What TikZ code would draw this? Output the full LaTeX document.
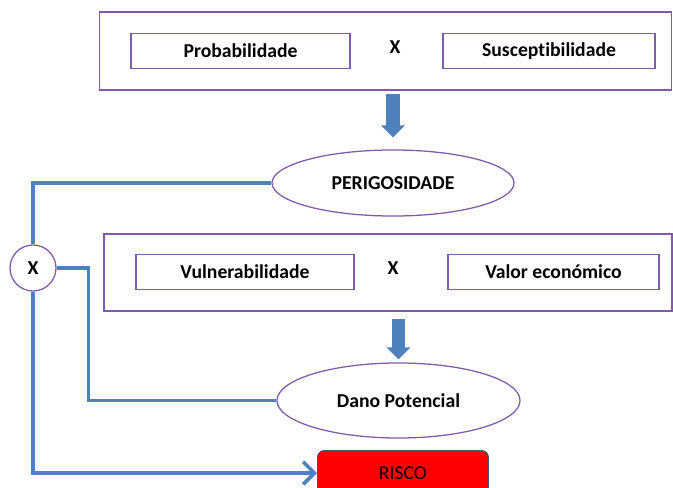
\documentclass[tikz,border=0pt]{standalone}
\usepackage{fontspec}
\setmainfont{Carlito}[Ligatures={NoCommon}]
\usetikzlibrary{arrows.meta,shapes.geometric,calc}
\definecolor{linkblue}{RGB}{79,129,189}
\definecolor{boxpurple}{RGB}{128,90,170}
\newcommand{\labelfont}{\fontsize{14}{16}\selectfont}
\begin{document}
\begin{tikzpicture}[x=0.025cm, y=-0.025cm, semithick,
        font=\labelfont,
        frame/.style={rectangle,draw=boxpurple,line width=0.9pt,inner sep=0pt},
        factor/.style={rectangle,draw=boxpurple,line width=0.9pt,minimum height=0.88cm,font=\labelfont\bfseries},
        result/.style={ellipse,draw=boxpurple,line width=0.9pt,inner sep=0pt,font=\labelfont\bfseries},
        times/.style={font=\labelfont\bfseries},
        link/.style={draw=linkblue,line width=2.6pt},
        bigarrow/.style={draw=linkblue,line width=0.33cm,-{Triangle[width=0.58cm,length=0.3cm]}}]
        \useasboundingbox (0,0) rectangle (673,488);
        \clip (0,0) rectangle (673,488);
        % first product
        \node[frame,minimum width=14.3cm,minimum height=1.95cm] at (385.5,51) (top) {};
        \node[factor,minimum width=5.475cm] at (240.5,51) (prob) {Probabilidade};
        \node[times] at (395,47) (x1) {X};
        \node[factor,minimum width=5.3cm] at (549,51) (susc) {Susceptibilidade};
        \node[result,minimum width=6.05cm,minimum height=1.65cm] at (393,183) (peri) {PERIGOSIDADE};
        % second product
        \node[frame,minimum width=14.2cm,minimum height=1.925cm] at (388,272.5) (mid) {};
        \node[factor,minimum width=5.45cm] at (245,272) (vuln) {Vulnerabilidade};
        \node[times] at (393,268) (x2) {X};
        \node[factor,minimum width=5.275cm] at (553.5,272) (valor) {Valor económico};
        \node[result,minimum width=6.075cm,minimum height=1.875cm] at (398.5,400.5) (dano) {Dano Potencial};
        \node[circle,draw=boxpurple,line width=0.9pt,minimum size=1.15cm,inner sep=0pt,font=\labelfont\bfseries,fill=white] at (33,268) (cx) {X};
        \node[rectangle,rounded corners=5pt,draw=linkblue!70!black,fill=red,minimum width=4.275cm,minimum height=1.2cm,
              anchor=north west] at (317,450) (risco) {};
        \path (risco.north) ++(0,23) node (riscotext) {RISCO};
        \draw[bigarrow,shorten <=0.075cm,shorten >=0.3cm] (peri.north |- top.south) -- (peri.north);
        \draw[bigarrow,shorten <=0.175cm,shorten >=0.075cm] (dano.north |- mid.south) -- (dano.north);
        \draw[link] (cx.north) |- (peri.west);
        \draw[link] (cx.east) -- ++(32,0) |- (dano.west);
        \draw[link,-{Straight Barb[length=8pt,width=16pt]}] (cx.south) |- (risco.west |- riscotext);
      \end{tikzpicture}
\end{document}
